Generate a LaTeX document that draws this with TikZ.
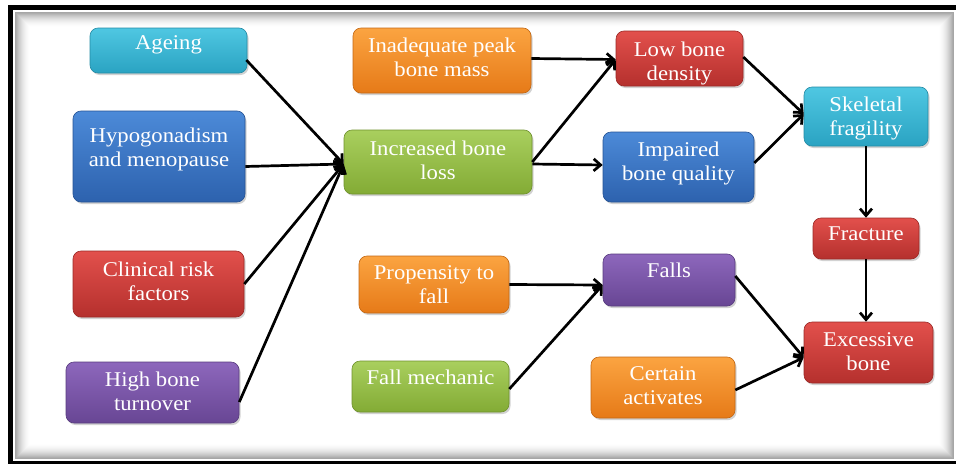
\documentclass[tikz,border=0pt]{standalone}
\usepackage{fontspec}
\setmainfont[FakeStretch=1.08]{Liberation Serif}
\usetikzlibrary{arrows.meta,shadows,calc}
\definecolor{cyT}{HTML}{4FC7E2}\definecolor{cyB}{HTML}{2AA3C2}
\definecolor{blT}{HTML}{4C8AD8}\definecolor{blB}{HTML}{2D62AE}
\definecolor{rdT}{HTML}{E2504C}\definecolor{rdB}{HTML}{B5302D}
\definecolor{puT}{HTML}{8D67BC}\definecolor{puB}{HTML}{684694}
\definecolor{orT}{HTML}{FBA441}\definecolor{orB}{HTML}{E67A18}
\definecolor{grT}{HTML}{A9CF5E}\definecolor{grB}{HTML}{83AB35}
\begin{document}
\begin{tikzpicture}[x=1pt,y=-1pt,
  box/.style={rounded corners=8pt, draw=#1B!85!black, line width=0.6pt,
    top color=#1T, bottom color=#1B, inner sep=0pt,
    drop shadow={shadow xshift=1.5pt,shadow yshift=-2pt,opacity=0.35}},
  lbl/.style={text=white, align=center, anchor=north, inner sep=0pt,
    font=\fontsize{21}{24}\selectfont},
  arr/.style={-{Straight Barb[length=7pt,width=12pt]}, line width=2.7pt, black}]
\useasboundingbox (0,0) rectangle (956,466);
% frame
\fill[black] (8,5) rectangle (975,464);
\fill[white] (13,10) rectangle (975,461);
\draw[gray!70, line width=0.8pt] (15.5,12.5) rectangle (953,458.5);
\foreach \i [evaluate=\i as \op using 0.32*(1-\i/15)^2] in {0,...,14}
  \draw[black, opacity=\op, line width=1pt] (16.5+\i,13.5+\i) rectangle (952-\i,457.5-\i);
% boxes
\node[box=cy, minimum width=157pt, minimum height=45pt] (ageing) at (168.5,50.5) {};
\node[box=bl, minimum width=172pt, minimum height=91pt] (hypo) at (159,156.5) {};
\node[box=rd, minimum width=171pt, minimum height=66pt] (clin) at (158.5,284) {};
\node[box=pu, minimum width=173pt, minimum height=61pt] (high) at (152.5,392.5) {};
\node[box=or, minimum width=178pt, minimum height=65pt] (inad) at (442,60.5) {};
\node[box=gr, minimum width=188pt, minimum height=64pt] (incr) at (438,162) {};
\node[box=rd, minimum width=127pt, minimum height=55pt] (low) at (679.5,58.5) {};
\node[box=bl, minimum width=151pt, minimum height=70pt] (impa) at (678.5,167) {};
\node[box=cy, minimum width=124pt, minimum height=59pt] (skel) at (866,116.5) {};
\node[box=rd, minimum width=106pt, minimum height=41pt] (frac) at (866,238.5) {};
\node[box=or, minimum width=150pt, minimum height=57pt] (prop) at (434,284.5) {};
\node[box=gr, minimum width=157pt, minimum height=51pt] (fmech) at (430.5,386.5) {};
\node[box=pu, minimum width=132pt, minimum height=52pt] (falls) at (669,280) {};
\node[box=or, minimum width=144pt, minimum height=61pt] (cert) at (663,387.5) {};
\node[box=rd, minimum width=129pt, minimum height=61pt] (exce) at (868.5,352.5) {};
% labels
\node[lbl] (t-ageing) at ($(ageing.north)+(0,8)$) {Ageing};
\node[lbl] (t-hypo) at ($(hypo.north)+(0,17)$) {Hypogonadism\\and menopause};
\node[lbl] (t-clin) at ($(clin.north)+(0,11)$) {Clinical risk\\factors};
\node[lbl] (t-high) at ($(high.north)+(0,10)$) {High bone\\turnover};
\node[lbl] (t-inad) at ($(inad.north)+(0,10)$) {Inadequate peak\\bone mass};
\node[lbl] (t-incr) at ($(incr.north)+(0,11)$) {Increased bone\\loss};
\node[lbl] (t-low) at ($(low.north)+(0,11)$) {Low bone\\density};
\node[lbl] (t-impa) at ($(impa.north)+(0,10)$) {Impaired\\bone quality};
\node[lbl] (t-skel) at ($(skel.north)+(0,10)$) {Skeletal\\fragility};
\node[lbl] (t-frac) at ($(frac.north)+(0,9)$) {Fracture};
\node[lbl] (t-prop) at ($(prop.north)+(0,10)$) {Propensity to\\fall};
\node[lbl] (t-fmech) at ($(fmech.north)+(0,9)$) {Fall mechanic};
\node[lbl] (t-falls) at ($(falls.north)+(0,9)$) {Falls};
\node[lbl] (t-cert) at ($(cert.north)+(0,10)$) {Certain\\activates};
\node[lbl] (t-exce) at ($(exce.north)+(0,11)$) {Excessive\\bone};
% connector points
\coordinate (conv) at ($(incr.west)+(0,2)$);
\coordinate (lowin) at ($(low.west)+(0,1)$);
\coordinate (skelin) at ($(skel.west)+(0,-2.5)$);
\coordinate (fallsin) at ($(falls.west)+(0,5)$);
\coordinate (excein) at ($(exce.west)+(0,5)$);
% connectors
\draw[arr] ($(ageing.east)+(-1,9.5)$) -- (conv);
\draw[arr] ($(hypo.east)+(0,10)$) -- (conv);
\draw[arr] (clin.east) -- (conv);
\draw[arr] ($(high.east)+(0,9.5)$) -- (conv);
\draw[arr] ($(inad.east)+(0,-2)$) -- (lowin);
\draw[arr] (incr.east) -- (lowin);
\draw[arr] ($(incr.east)+(0,2)$) -- ($(impa.west)+(0,-2)$);
\draw[arr] ($(low.east)+(0,-1.5)$) -- (skelin);
\draw[arr] ($(impa.east)+(0,-4)$) -- (skelin);
\draw[arr] (skel.south) -- (frac.north);
\draw[arr] (frac.south) -- (frac.south |- exce.north);
\draw[arr] (prop.east) -- (fallsin);
\draw[arr] ($(fmech.east)+(0,2.5)$) -- (fallsin);
\draw[arr] ($(falls.east)+(0,-4)$) -- (excein);
\draw[arr] ($(cert.east)+(0,2.5)$) -- (excein);
\end{tikzpicture}
\end{document}
